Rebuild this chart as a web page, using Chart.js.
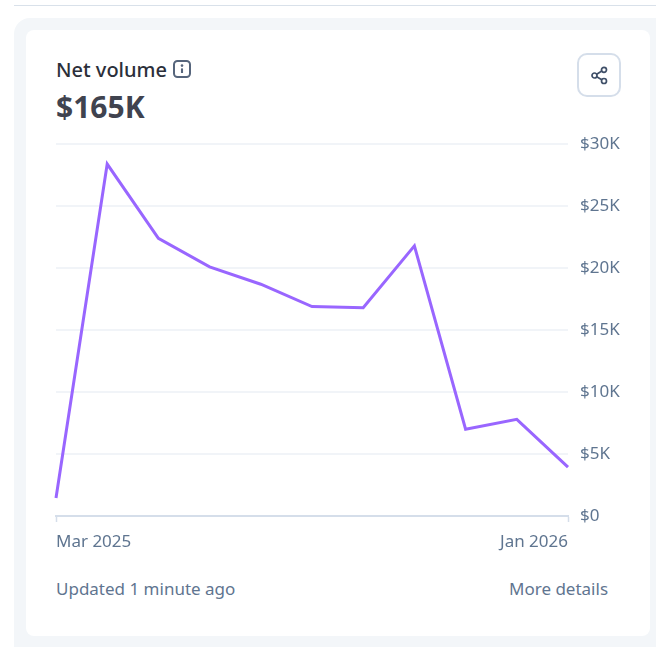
<!DOCTYPE html>
<html>
<head>
<meta charset="utf-8">
<script src="https://cdn.jsdelivr.net/npm/chart.js@4"></script>
<style>
html,body{margin:0;padding:0;background:#fff;width:656px;height:647px;overflow:hidden;font-family:"Noto Sans",sans-serif;}
#rule{position:absolute;left:14px;right:0;top:5px;height:1px;background:#d9e1ea;}
#outer{position:absolute;left:14px;top:18px;width:660px;height:660px;background:#f3f6f9;border-radius:16px;}
#inner{position:absolute;left:26px;top:30px;width:624px;height:606px;background:#fff;border-radius:8px;}
.t{position:absolute;white-space:nowrap;line-height:1;}
#title{left:56px;top:60px;font-size:20px;color:#2b2f3a;font-weight:500;}
#big{left:56px;top:92px;font-size:30px;font-weight:700;color:#40434f;}
#upd{left:56px;top:580px;font-size:17px;color:#5f7590;}
#more{left:509px;top:580px;font-size:17px;color:#5f7590;}
#info{position:absolute;left:173px;top:60px;}
#share{position:absolute;left:577px;top:53px;width:40px;height:40px;border:2px solid #d5deea;border-radius:10px;background:#fff;}
#share svg{position:absolute;left:10.5px;top:10.5px;}
#c{position:absolute;left:46px;top:122px;width:590px;height:438px;}
</style>
</head>
<body>
<div id="rule"></div>
<div id="outer"></div>
<div id="inner"></div>
<div class="t" id="title">Net volume</div>
<svg id="info" width="18" height="18" viewBox="0 0 18 18" fill="none">
<rect x="1" y="1" width="16" height="16" rx="3.5" stroke="#56657c" stroke-width="2"/>
<circle cx="9" cy="5.6" r="1.3" fill="#56657c"/>
<path d="M9 8.4V13" stroke="#56657c" stroke-width="2.1"/>
</svg>
<div class="t" id="big">$165K</div>
<div id="share">
<svg width="19" height="19" viewBox="0 0 19 19" fill="none" stroke="#3f4f68" stroke-width="1.7">
<circle cx="14" cy="3.8" r="2.5"/><circle cx="4.5" cy="9.5" r="2.5"/><circle cx="14" cy="15" r="2.5"/>
<path d="M6.7 8.2L11.8 5.1M6.7 10.8L11.8 13.7"/>
</svg>
</div>
<canvas id="c" width="590" height="438"></canvas>
<div class="t" id="upd">Updated 1 minute ago</div>
<div class="t" id="more">More details</div>
<script>
const months = ["Mar 2025","Apr 2025","May 2025","Jun 2025","Jul 2025","Aug 2025","Sep 2025","Oct 2025","Nov 2025","Dec 2025","Jan 2026"];
const netVolume = [1450,28400,22400,20100,18700,16900,16800,21800,7000,7800,3950];
const yTicks = [0,5000,10000,15000,20000,25000,30000];

Chart.defaults.font.family = '"Noto Sans",sans-serif';
Chart.defaults.animation = false;

new Chart(document.getElementById('c'), {
  type: 'line',
  data: {
    labels: months,
    datasets: [{
      data: netVolume,
      borderColor: '#9966ff',
      borderWidth: 3,
      pointRadius: 0,
      tension: 0,
      fill: false,
      clip: false,
      borderJoinStyle: 'miter'
    }]
  },
  options: {
    responsive: false,
    devicePixelRatio: 1,
    layout: { padding: { left: 10, top: 0, right: 0, bottom: 0 } },
    plugins: { legend: { display: false }, tooltip: { enabled: false } },
    scales: {
      x: {
        offset: false,
        border: { color: '#d5deea', width: 2 },
        grid: {
          drawOnChartArea: false,
          tickLength: 6,
          tickWidth: 1.5,
          tickColor: c => (c.index === 0 || c.index === months.length - 1) ? '#d5deea' : 'rgba(0,0,0,0)'
        },
        ticks: {
          autoSkip: false,
          maxRotation: 0,
          align: 'inner',
          padding: 10,
          color: '#5f7590',
          font: { size: 17 },
          callback: (v, i) => (i === 0 || i === months.length - 1) ? months[i] : ''
        },
        afterFit: s => { s.height = 44; }
      },
      y: {
        position: 'right',
        min: 0,
        max: 30000,
        border: { display: false },
        grid: { color: '#f1f4f8', lineWidth: 2, drawTicks: false },
        afterBuildTicks: s => { s.ticks = yTicks.map(v => ({ value: v })); },
        ticks: {
          padding: 12,
          color: '#5f7590',
          font: { size: 17 },
          callback: v => v === 0 ? '$0' : '$' + (v / 1000) + 'K'
        },
        afterFit: s => { s.width = 68; }
      }
    }
  }
});
</script>
</body>
</html>
